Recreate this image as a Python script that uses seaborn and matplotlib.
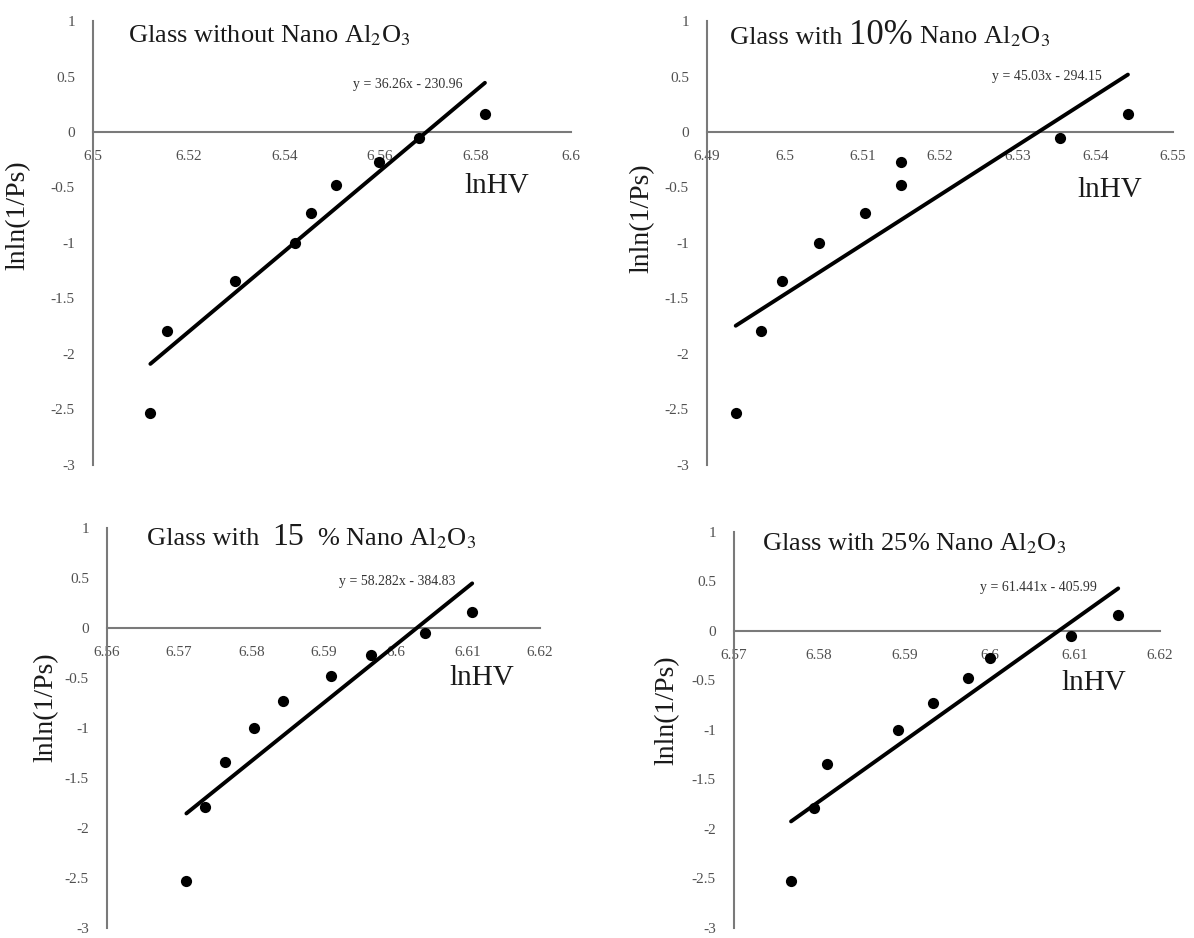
import matplotlib
matplotlib.use("Agg")
import matplotlib.pyplot as plt
import seaborn as sns
from matplotlib.offsetbox import TextArea, HPacker, AnchoredOffsetbox

# y values: lnln(1/Ps), same rank positions for every glass
lnln_ps = [-2.53, -1.79, -1.34, -1.00, -0.73, -0.48, -0.27, -0.05, 0.16]

# x values: lnHV
lnhv_0 = [6.5120, 6.5154, 6.5298, 6.5422, 6.5456, 6.5508, 6.5598, 6.5682, 6.5820]
lnhv_10 = [6.4937, 6.4969, 6.4997, 6.5044, 6.5104, 6.5150, 6.5150, 6.5354, 6.5442]
lnhv_15 = [6.5710, 6.5736, 6.5764, 6.5804, 6.5844, 6.5911, 6.5966, 6.6040, 6.6106]
lnhv_25 = [6.5767, 6.5794, 6.5809, 6.5893, 6.5934, 6.5975, 6.6000, 6.6095, 6.6151]

xticks_0 = [6.5, 6.52, 6.54, 6.56, 6.58, 6.6]
xticks_10 = [6.49, 6.5, 6.51, 6.52, 6.53, 6.54, 6.55]
xticks_15 = [6.56, 6.57, 6.58, 6.59, 6.6, 6.61, 6.62]
xticks_25 = [6.57, 6.58, 6.59, 6.6, 6.61, 6.62]
yticks = [1, 0.5, 0, -0.5, -1, -1.5, -2, -2.5, -3]

equations = ["y = 36.26x - 230.96", "y = 45.03x - 294.15",
             "y = 58.282x - 384.83", "y = 61.441x - 405.99"]

sns.set_style("white")
plt.rcParams["font.family"] = ["Liberation Serif", "DejaVu Serif"]
plt.rcParams["mathtext.fontset"] = "stix"
plt.rcParams["axes.unicode_minus"] = False

AL2O3 = "Al$_2$O$_3$"

panels = [
    dict(x=lnhv_0, xticks=xticks_0, rect=[0.0779, 0.5043, 0.4003, 0.4733],
         title=[("Glass without Nano " + AL2O3, 19)], title_xy=(0.073, 0.968),
         eq=equations[0], eq_xy=(0.774, 0.856), lab_xy=(0.845, 0.628),
         ylab_xy=(-0.157, 0.563)),
    dict(x=lnhv_10, xticks=xticks_10, rect=[0.5921, 0.5043, 0.3903, 0.4733],
         title=[("Glass with ", 19), ("10%", 25), (" Nano " + AL2O3, 19)],
         title_xy=(0.049, 0.968),
         eq=equations[1], eq_xy=(0.848, 0.876), lab_xy=(0.865, 0.619),
         ylab_xy=(-0.139, 0.556)),
    dict(x=lnhv_15, xticks=xticks_15, rect=[0.0896, 0.0107, 0.3627, 0.4264],
         title=[("Glass with  ", 19), ("15", 23), ("  % Nano " + AL2O3, 19)],
         title_xy=(0.092, 0.975),
         eq=equations[2], eq_xy=(0.804, 0.865), lab_xy=(0.866, 0.625),
         ylab_xy=(-0.141, 0.552)),
    dict(x=lnhv_25, xticks=xticks_25, rect=[0.6147, 0.0107, 0.3568, 0.4222],
         title=[("Glass with 25% Nano " + AL2O3, 19)], title_xy=(0.066, 0.97),
         eq=equations[3], eq_xy=(0.852, 0.859), lab_xy=(0.845, 0.619),
         ylab_xy=(-0.157, 0.55)),
]

fig = plt.figure(figsize=(11.94, 9.38), dpi=100)

for p in panels:
    ax = fig.add_axes(p["rect"])
    sns.regplot(x=p["x"], y=lnln_ps, ax=ax, ci=None, color="black",
                scatter_kws=dict(s=65, zorder=3, linewidths=0, alpha=1),
                line_kws=dict(lw=2.8, zorder=4))
    ax.set_xlim(p["xticks"][0], p["xticks"][-1])
    ax.set_ylim(-3, 1)
    ax.set_xticks(p["xticks"])
    ax.set_yticks(yticks)
    ax.xaxis.set_major_formatter(lambda v, pos: f"{v:g}")
    ax.yaxis.set_major_formatter(lambda v, pos: f"{v:g}")
    ax.set_xlabel("")
    ax.set_ylabel("")
    ax.grid(False)

    for s in ["top", "right"]:
        ax.spines[s].set_visible(False)
    ax.spines["bottom"].set_position(("data", 0))
    for s in ["left", "bottom"]:
        ax.spines[s].set_color("#7a7a7a")
        ax.spines[s].set_linewidth(1.5)
    ax.tick_params(length=0, pad=13, labelsize=11, labelcolor="#505050")

    # title made of pieces with different sizes
    pieces = [TextArea(t, textprops=dict(fontsize=fs, color="#1a1a1a"))
              for t, fs in p["title"]]
    box = AnchoredOffsetbox(loc="center left",
                            child=HPacker(children=pieces, align="baseline", pad=0, sep=0),
                            bbox_to_anchor=p["title_xy"], bbox_transform=ax.transAxes,
                            frameon=False, pad=0, borderpad=0)
    ax.add_artist(box)

    ax.text(*p["eq_xy"], p["eq"], transform=ax.transAxes, ha="right",
            va="center", fontsize=10, color="#333333")
    ax.text(*p["lab_xy"], "lnHV", transform=ax.transAxes, ha="center",
            va="center", fontsize=21, color="#1a1a1a")
    ax.text(*p["ylab_xy"], "lnln(1/Ps)", transform=ax.transAxes, ha="center",
            va="center", rotation=90, fontsize=20, color="#1a1a1a")

fig.savefig("out.png", dpi=100)
